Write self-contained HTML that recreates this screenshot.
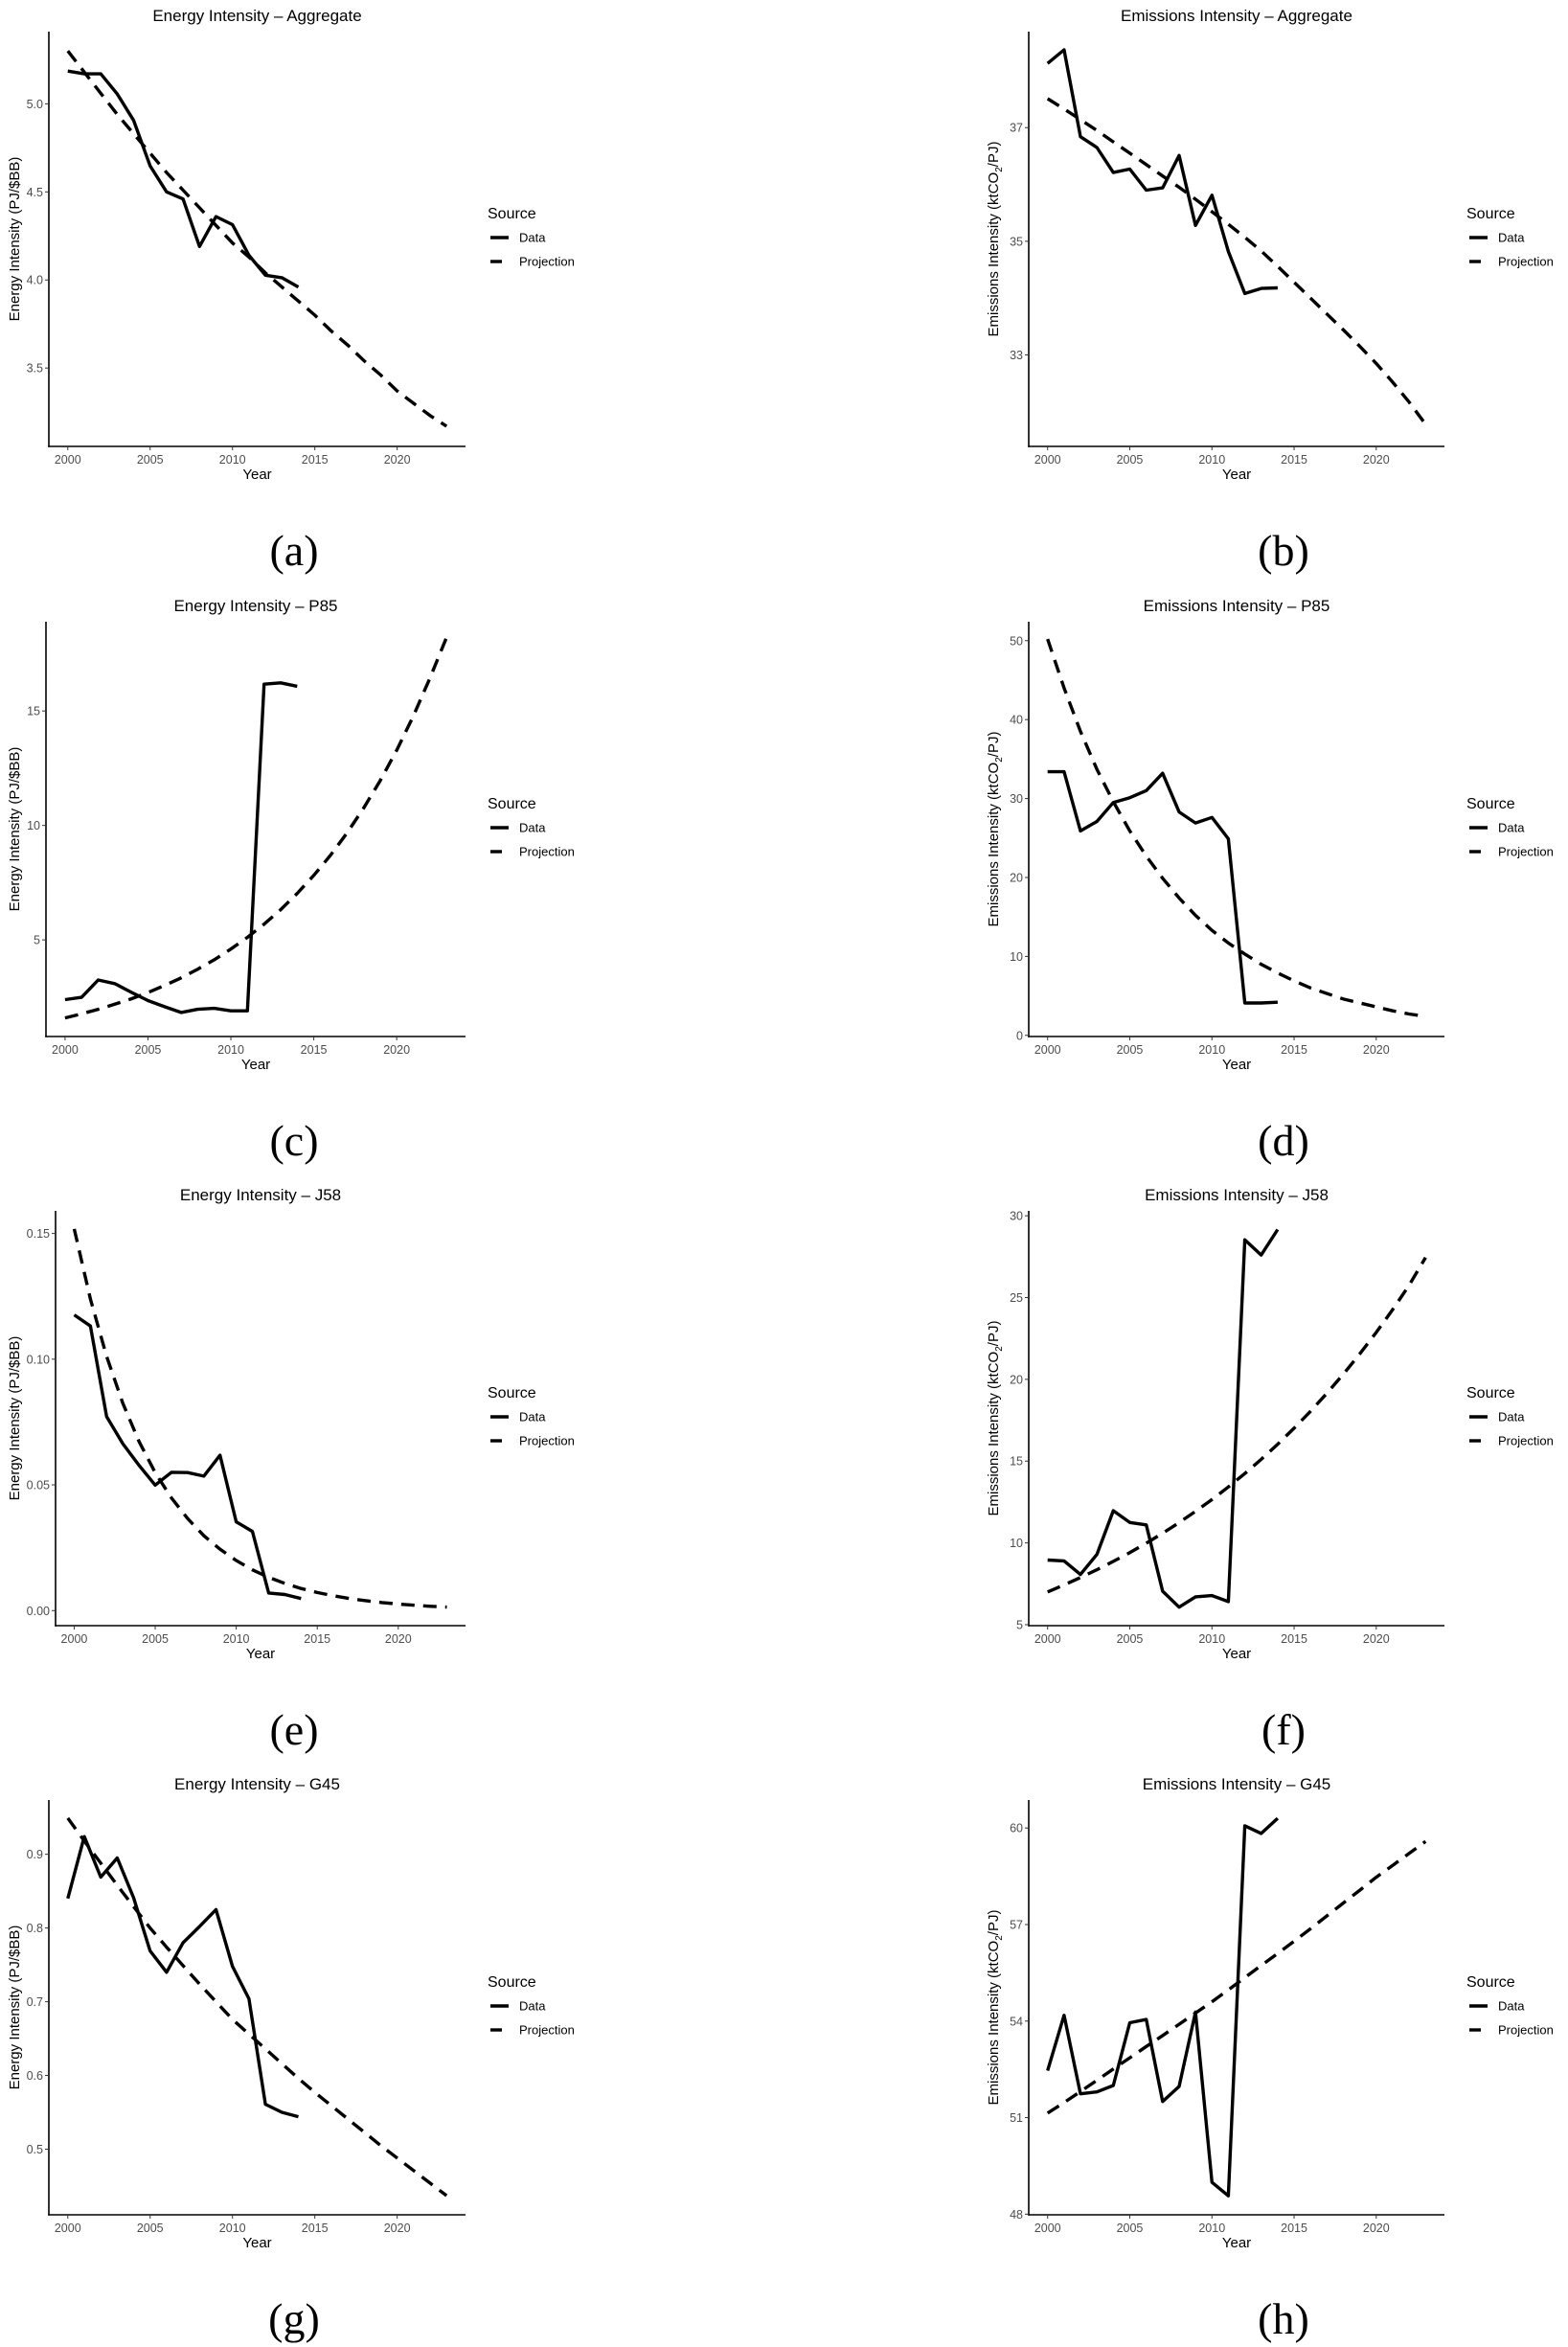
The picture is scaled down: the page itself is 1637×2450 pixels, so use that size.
<!DOCTYPE html>
<html><head><meta charset="utf-8">
<style>
html,body{margin:0;padding:0;background:#fff;}
svg{display:block;font-family:"Liberation Sans",Arial,sans-serif;}
</style></head>
<body>
<svg id="fig" width="1637" height="2450" viewBox="0 0 1637 2450" xmlns="http://www.w3.org/2000/svg"></svg>
<script>
const years = [2000,2001,2002,2003,2004,2005,2006,2007,2008,2009,2010,2011,2012,2013,2014];
const projYears = [2000,2001,2002,2003,2004,2005,2006,2007,2008,2009,2010,2011,2012,2013,2014,2015,2016,2017,2018,2019,2020,2021,2022,2023];
const xTicks = [2000,2005,2010,2015,2020];

const aData = [5.186,5.17,5.17,5.056,4.906,4.648,4.50,4.46,4.19,4.36,4.314,4.14,4.027,4.013,3.96];
const aProj = [5.30,5.18,5.06,4.94,4.83,4.72,4.61,4.51,4.41,4.31,4.21,4.13,4.04,3.96,3.88,3.80,3.71,3.63,3.54,3.46,3.37,3.30,3.23,3.17];
const aTicks = [3.5,4.0,4.5,5.0];
const aTickLabels = ["3.5","4.0","4.5","5.0"];

const bData = [38.13,38.37,36.84,36.65,36.21,36.27,35.90,35.94,36.51,35.28,35.81,34.82,34.08,34.17,34.18];
const bProj = [37.51,37.33,37.14,36.95,36.75,36.55,36.35,36.15,35.95,35.74,35.52,35.30,35.07,34.83,34.56,34.28,34.0,33.72,33.44,33.15,32.85,32.52,32.17,31.78];
const bTicks = [33,35,37];
const bTickLabels = ["33","35","37"];

const cData = [2.39,2.49,3.25,3.09,2.71,2.35,2.08,1.83,1.97,2.01,1.90,1.90,16.17,16.23,16.08];
const cProj = [1.59,1.77,1.97,2.19,2.43,2.70,3.01,3.34,3.72,4.13,4.60,5.11,5.69,6.32,7.03,7.82,8.69,9.67,10.75,11.95,13.29,14.78,16.43,18.2];
const cTicks = [5,10,15];
const cTickLabels = ["5","10","15"];

const dData = [33.4,33.4,25.9,27.1,29.5,30.1,31.0,33.2,28.3,26.9,27.6,24.9,4.1,4.1,4.2];
const dProj = [50.2,44.0,38.5,33.7,29.6,25.9,22.7,19.9,17.4,15.2,13.3,11.7,10.3,9.0,7.9,6.9,6.0,5.3,4.6,4.1,3.6,3.1,2.7,2.4];
const dTicks = [0,10,20,30,40,50];
const dTickLabels = ["0","10","20","30","40","50"];

const eData = [0.1176,0.1132,0.0772,0.0664,0.0578,0.0499,0.055,0.0549,0.0535,0.0618,0.0353,0.0315,0.0070,0.0064,0.0048];
const eProj = [0.1518,0.1239,0.1011,0.0825,0.0673,0.0549,0.0448,0.0366,0.0298,0.0244,0.0199,0.0162,0.0132,0.0108,0.0088,0.0072,0.0059,0.0048,0.0039,0.0032,0.0026,0.0021,0.0017,0.0014];
const eTicks = [0,0.05,0.10,0.15];
const eTickLabels = ["0.00","0.05","0.10","0.15"];

const fData = [8.95,8.9,8.07,9.3,11.97,11.25,11.1,7.05,6.07,6.70,6.78,6.41,28.53,27.6,29.16];
const fProj = [7.0,7.43,7.88,8.36,8.87,9.41,9.98,10.59,11.24,11.93,12.65,13.42,14.24,15.11,16.03,17.01,18.05,19.15,20.32,21.56,22.87,24.27,25.75,27.45];
const fTicks = [5,10,15,20,25,30];
const fTickLabels = ["5","10","15","20","25","30"];

const gData = [0.840,0.924,0.869,0.895,0.841,0.769,0.740,0.780,0.802,0.825,0.748,0.704,0.561,0.550,0.544];
const gProj = [0.949,0.918,0.888,0.858,0.829,0.800,0.774,0.749,0.724,0.700,0.676,0.656,0.636,0.616,0.596,0.577,0.559,0.541,0.523,0.505,0.488,0.471,0.454,0.437];
const gTicks = [0.5,0.6,0.7,0.8,0.9];
const gTickLabels = ["0.5","0.6","0.7","0.8","0.9"];

const hData = [52.46,54.18,51.74,51.80,52.0,53.95,54.05,51.5,51.97,54.28,48.99,48.57,60.07,59.83,60.30];
const hProj = [51.14,51.47,51.81,52.16,52.51,52.86,53.21,53.55,53.9,54.25,54.6,54.97,55.35,55.73,56.1,56.48,56.87,57.27,57.67,58.07,58.47,58.84,59.21,59.58];
const hTicks = [48,51,54,57,60];
const hTickLabels = ["48","51","54","57","60"];

const NS = "http://www.w3.org/2000/svg";
const svg = document.getElementById('fig');
function mk(tag, attrs, parent){
  const e = document.createElementNS(NS, tag);
  for (const k in attrs) e.setAttribute(k, attrs[k]);
  (parent||svg).appendChild(e);
  return e;
}

const rowOff = [0,616,1231,1846];
const panels = [
  {id:'a',col:0,row:0,title:'Energy Intensity \u2013 Aggregate',emis:false,data:aData,proj:aProj,ticks:aTicks,tl:aTickLabels,left:51,dom:[3.055,5.41]},
  {id:'b',col:1,row:0,title:'Emissions Intensity \u2013 Aggregate',emis:true,data:bData,proj:bProj,ticks:bTicks,tl:bTickLabels,left:1074,dom:[31.39,38.69]},
  {id:'c',col:0,row:1,title:'Energy Intensity \u2013 P85',emis:false,data:cData,proj:cProj,ticks:cTicks,tl:cTickLabels,left:48,dom:[0.78,18.9]},
  {id:'d',col:1,row:1,title:'Emissions Intensity \u2013 P85',emis:true,data:dData,proj:dProj,ticks:dTicks,tl:dTickLabels,left:1074,dom:[-0.15,52.4]},
  {id:'e',col:0,row:2,title:'Energy Intensity \u2013 J58',emis:false,data:eData,proj:eProj,ticks:eTicks,tl:eTickLabels,left:58,dom:[-0.006,0.159]},
  {id:'f',col:1,row:2,title:'Emissions Intensity \u2013 J58',emis:true,data:fData,proj:fProj,ticks:fTicks,tl:fTickLabels,left:1074,dom:[4.94,30.3]},
  {id:'g',col:0,row:3,title:'Energy Intensity \u2013 G45',emis:false,data:gData,proj:gProj,ticks:gTicks,tl:gTickLabels,left:51,dom:[0.411,0.9736]},
  {id:'h',col:1,row:3,title:'Emissions Intensity \u2013 G45',emis:true,data:hData,proj:hProj,ticks:hTicks,tl:hTickLabels,left:1074,dom:[47.98,60.87]}
];

panels.forEach(p => {
  const dy = rowOff[p.row];
  const top = 33 + dy, bottom = 466 + dy;
  const L = p.left, R = p.col === 0 ? 486 : 1508;
  const x0 = 1998.85, x1 = 2024.15;
  const sx = v => L + (v - x0) / (x1 - x0) * (R - L);
  const sy = v => bottom - (v - p.dom[0]) / (p.dom[1] - p.dom[0]) * (bottom - top);

  const g = mk('g', {});
  
  

  const t = mk('text', {x:(L+R)/2, y:22+dy, 'text-anchor':'middle', 'font-size':17, fill:'#000'}, g);
  t.textContent = p.title;
  
  

  // axes
  const ya = mk('line', {x1:L, y1:top, x2:L, y2:bottom+0.75, stroke:'#000', 'stroke-width':1.6}, g);
  
  
  const xa = mk('line', {x1:L-0.75, y1:bottom, x2:R, y2:bottom, stroke:'#000', 'stroke-width':1.6}, g);
  
  

  xTicks.forEach(v => {
    mk('line', {x1:sx(v), y1:bottom, x2:sx(v), y2:bottom+4, stroke:'#333', 'stroke-width':1}, g);
    const tx = mk('text', {x:sx(v), y:bottom+18, 'text-anchor':'middle', 'font-size':12.5, fill:'#4d4d4d'}, g);
    tx.textContent = v;
    
    
  });
  p.ticks.forEach((v, i) => {
    mk('line', {x1:L-4, y1:sy(v), x2:L, y2:sy(v), stroke:'#333', 'stroke-width':1}, g);
    const ty = mk('text', {x:L-6, y:sy(v)+4.5, 'text-anchor':'end', 'font-size':12.5, fill:'#4d4d4d'}, g);
    ty.textContent = p.tl[i];
    
    
  });

  const xl = mk('text', {x:(L+R)/2, y:500+dy, 'text-anchor':'middle', 'font-size':15, fill:'#000'}, g);
  xl.textContent = 'Year';
  
  

  const yx = p.col === 0 ? 20 : 1042;
  const yc = (top + bottom) / 2;
  const yl = mk('text', {x:yx, y:yc, 'text-anchor':'middle', 'font-size':15, fill:'#000', transform:`rotate(-90 ${yx} ${yc})`}, g);
  
  
  if (p.emis) {
    yl.appendChild(document.createTextNode('Emissions Intensity (ktCO'));
    const sub = mk('tspan', {'font-size':10, dy:4}, yl);
    sub.textContent = '2';
    const rest = mk('tspan', {dy:-4}, yl);
    rest.textContent = '/PJ)';
  } else {
    yl.textContent = 'Energy Intensity (PJ/$BB)';
  }

  // series
  const proj = mk('polyline', {points: projYears.map((y, i) => sx(y).toFixed(1) + ',' + sy(p.proj[i]).toFixed(1)).join(' '),
    fill:'none', stroke:'#000', 'stroke-width':3.4, 'stroke-dasharray':'14 9'}, g);
  
  
  const dat = mk('polyline', {points: years.map((y, i) => sx(y).toFixed(1) + ',' + sy(p.data[i]).toFixed(1)).join(' '),
    fill:'none', stroke:'#000', 'stroke-width':3.4, 'stroke-linejoin':'round'}, g);
  
  

  // legend
  const lx = R + 23;
  const lg = mk('g', {}, g);
  
  
  const st = mk('text', {x:lx, y:228+dy, 'font-size':16, fill:'#000'}, lg);
  st.textContent = 'Source';
  
  
  mk('line', {x1:lx+3, y1:248+dy, x2:lx+22, y2:248+dy, stroke:'#000', 'stroke-width':3.4}, lg);
  const d1 = mk('text', {x:lx+33, y:252.5+dy, 'font-size':13, fill:'#000'}, lg);
  d1.textContent = 'Data';
  
  
  mk('line', {x1:lx+3, y1:273+dy, x2:lx+15, y2:273+dy, stroke:'#000', 'stroke-width':3.4}, lg);
  const d2 = mk('text', {x:lx+33, y:277.5+dy, 'font-size':13, fill:'#000'}, lg);
  d2.textContent = 'Projection';
  
  

  // subfigure label
  const sl = mk('text', {x: p.col === 0 ? 307 : 1340, y:590+dy, 'text-anchor':'middle', 'font-size':46,
    'font-family':'"Liberation Serif", "DejaVu Serif", serif', fill:'#000'}, g);
  sl.textContent = '(' + p.id + ')';
  
  
});
</script>
</body></html>
